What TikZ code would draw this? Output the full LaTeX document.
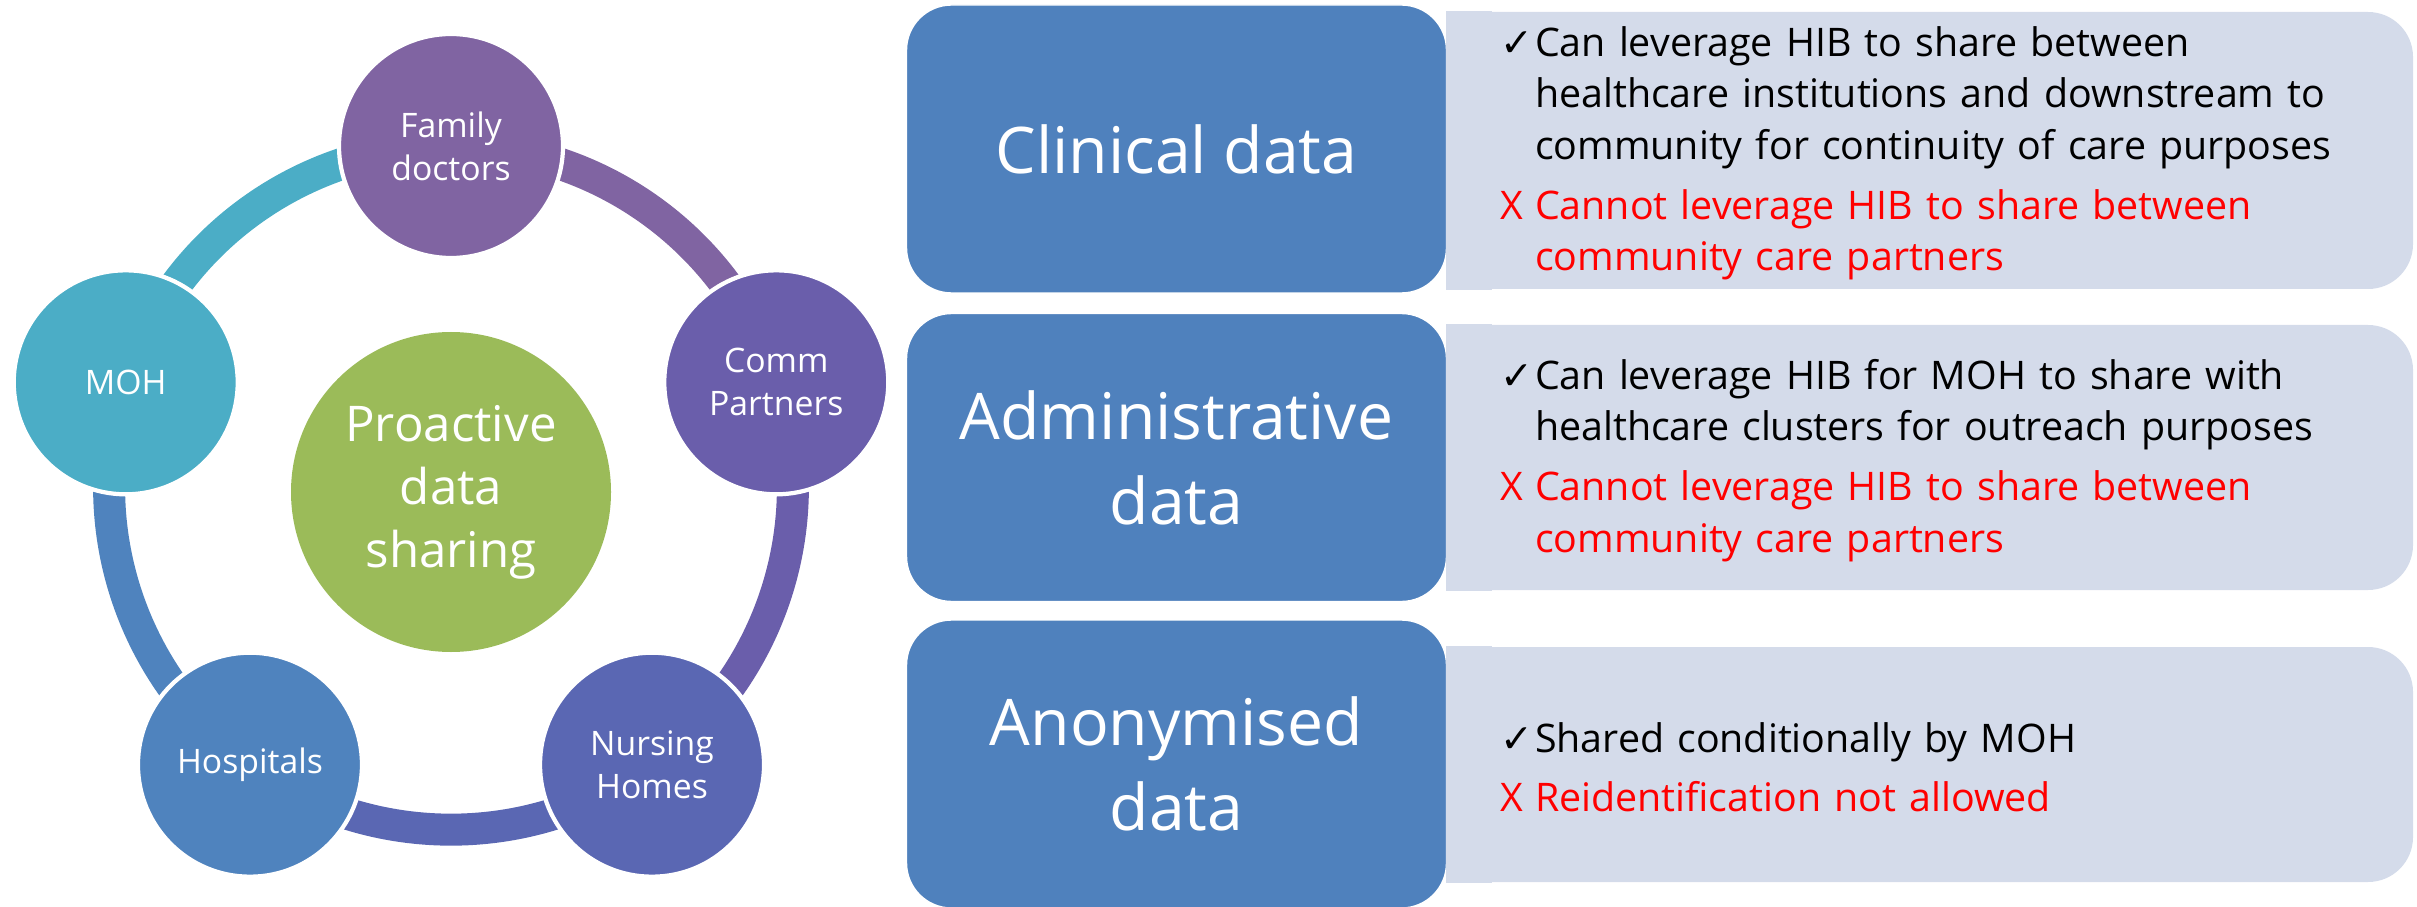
\documentclass[tikz,border=0pt]{standalone}
\usepackage{fontspec}
\setmainfont{Open Sans}
\newfontfamily\symfont{DejaVu Sans}
\usetikzlibrary{backgrounds}

\definecolor{famcol}{HTML}{8064A2}
\definecolor{commcol}{HTML}{6A5EAB}
\definecolor{nursecol}{HTML}{5A67B3}
\definecolor{hospcol}{HTML}{4F83BE}
\definecolor{mohcol}{HTML}{4BADC6}
\definecolor{hubcol}{HTML}{9BBB59}
\definecolor{headcol}{HTML}{4F81BD}
\definecolor{notecol}{HTML}{D4DBEA}
\definecolor{nocol}{HTML}{FF0000}

\newcommand\okitem[1]{%
  \par\hangindent=0.35cm\hangafter=1\noindent
  \makebox[0.35cm][l]{\symfont ✓}#1\par
}
\newcommand\noitem[1]{%
  \par\vspace{0.08cm}\hangindent=0.35cm\hangafter=1\noindent
  \textcolor{nocol}{\makebox[0.35cm][l]{X}#1}\par
  \nointerlineskip\vbox to 0.16cm{}
}

\begin{document}
\begin{tikzpicture}[
  member/.style={
    circle,
    draw=white,
    line width=1.2pt,
    minimum size=2.24cm,
    inner sep=0pt,
    align=center,
    text=white,
    font=\fontsize{9.6}{12.2}\selectfont
  },
  hub/.style={
    circle,
    fill=hubcol,
    minimum size=3.2cm,
    inner sep=0pt,
    align=center,
    text=white,
    font=\fontsize{14}{17.9}\selectfont
  },
  ring/.style={line width=0.32cm},
  headbox/.style={
    rounded corners=0.45cm,
    fill=headcol,
    draw=white,
    minimum width=5.4cm,
    minimum height=2.88cm,
    align=center,
    text=white,
    font=\fontsize{18.3}{24.2}\selectfont
  },
  notebox/.style={
    rounded corners=0.45cm,
    fill=notecol,
    minimum width=9.66cm,
    text width=8.6cm,
    inner xsep=0.53cm,
    inner ysep=-0.1cm,
    align=left,
    font=\fontsize{11.2}{14.7}\selectfont
  }
]
  \useasboundingbox (0,0) rectangle (24.17,-9.07);

  \begin{scope}[shift={(4.51,-4.88)}]
    \node[hub] (hub) at (0,-0.04) {Proactive\\data\\sharing};
    \node[member, fill=famcol] (fam) at (90:3.42) {Family\\doctors};
    \node[member, fill=commcol] (comm) at (18:3.42) {Comm\\Partners};
    \node[member, fill=nursecol] (nurse) at (-54:3.42) {Nursing\\Homes};
    \node[member, fill=hospcol] (hosp) at (-126:3.42) {Hospitals};
    \node[member, fill=mohcol] (moh) at (162:3.42) {MOH};
  \end{scope}

  \begin{scope}[on background layer]
    \foreach \a/\b/\c in {fam/comm/famcol, comm/nurse/commcol,
        nurse/hosp/nursecol, hosp/moh/hospcol, moh/fam/mohcol}
      \draw[ring, draw=\c] (\a.center) to[bend left=36, looseness=0.94] (\b.center);
  \end{scope}

  \node[headbox] (clin) at (11.765,-1.49) {Clinical data};
  \node[headbox] (admin) at (11.765,-4.575) {Administrative\\data};
  \node[headbox] (anon) at (11.765,-7.64) {Anonymised\\data};

  \node[notebox, minimum height=2.77cm] (clinnote) at (19.30,-1.505) {%
    \okitem{Can leverage HIB to share between\newline
      healthcare institutions and downstream to\newline
      community for continuity of care purposes}%
    \noitem{Cannot leverage HIB to share between\newline
      community care partners}};
  \node[notebox, minimum height=2.65cm] (adminnote) at (19.30,-4.575) {%
    \okitem{Can leverage HIB for MOH to share with\newline
      healthcare clusters for outreach purposes}%
    \noitem{Cannot leverage HIB to share between\newline
      community care partners}};
  \node[notebox, minimum height=2.35cm] (anonnote) at (19.30,-7.645) {%
    \okitem{Shared conditionally by MOH}%
    \noitem{Reidentification not allowed}};

  \foreach \n in {clinnote, adminnote, anonnote}
    \fill[notecol] (\n.north west) rectangle ([xshift=0.46cm]\n.south west);
\end{tikzpicture}
\end{document}
